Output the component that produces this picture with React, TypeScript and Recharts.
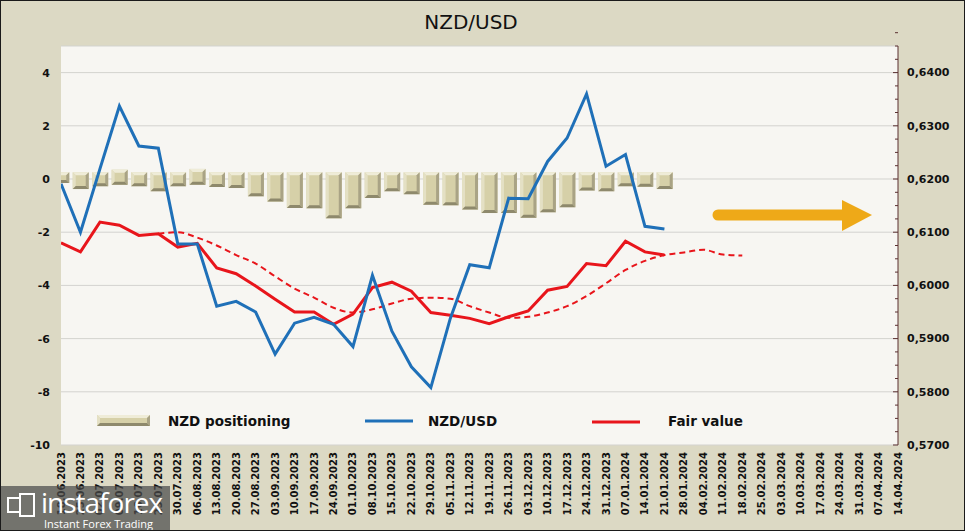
import React from 'react';
import { ComposedChart, Bar, Line, XAxis, YAxis, CartesianGrid } from 'recharts';

const weeks = [
  '18.06.2023', '25.06.2023', '02.07.2023', '09.07.2023', '16.07.2023', '23.07.2023', '30.07.2023',
  '06.08.2023', '13.08.2023', '20.08.2023', '27.08.2023', '03.09.2023', '10.09.2023', '17.09.2023',
  '24.09.2023', '01.10.2023', '08.10.2023', '15.10.2023', '22.10.2023', '29.10.2023', '05.11.2023',
  '12.11.2023', '19.11.2023', '26.11.2023', '03.12.2023', '10.12.2023', '17.12.2023', '24.12.2023',
  '31.12.2023', '07.01.2024', '14.01.2024', '21.01.2024', '28.01.2024', '04.02.2024', '11.02.2024',
  '18.02.2024', '25.02.2024', '03.03.2024', '10.03.2024', '17.03.2024', '24.03.2024', '31.03.2024',
  '07.04.2024', '14.04.2024',
];

// NZD/USD weekly close (right axis)
const nzdusd = [
  0.6191, 0.6100, 0.6219, 0.6337, 0.6262, 0.6258, 0.6078, 0.6078, 0.5961, 0.5970,
  0.5950, 0.5871, 0.5929, 0.5940, 0.5927, 0.5885, 0.6019, 0.5914, 0.5847, 0.5808,
  0.5938, 0.6039, 0.6033, 0.6164, 0.6163, 0.6233, 0.6277, 0.6360, 0.6224, 0.6246,
  0.6111, 0.6106,
];

// fair value (right axis)
const fairValue = [
  0.6080, 0.6063, 0.6119, 0.6113, 0.6094, 0.6097, 0.6072, 0.6079, 0.6033, 0.6022,
  0.5999, 0.5974, 0.5950, 0.5950, 0.5927, 0.5946, 0.5996, 0.6006, 0.5989, 0.5949,
  0.5944, 0.5938, 0.5928, 0.5941, 0.5952, 0.5991, 0.5998, 0.6041, 0.6037, 0.6083,
  0.6063, 0.6057,
];

// smoothed fair value, dashed (right axis)
const fairTrend = [
  null, null, null, null, null,
  0.6097, 0.6100, 0.6090, 0.6075, 0.6057, 0.6041, 0.6017, 0.5994, 0.5977, 0.5958,
  0.5949, 0.5955, 0.5966, 0.5975, 0.5977, 0.5975, 0.5961, 0.5949, 0.5939, 0.5941,
  0.5949, 0.5961, 0.5980, 0.6004, 0.6029, 0.6046, 0.6057, 0.6062, 0.6067, 0.6058,
  0.6056,
];

// NZD positioning bars (left axis), drawn as [bottom, top]
const positioningLow = [
  -0.15, -0.38, -0.27, -0.22, -0.27, -0.46, -0.27, -0.22, -0.30, -0.34,
  -0.65, -0.85, -1.09, -1.10, -1.48, -1.10, -0.71, -0.46, -0.57, -0.97,
  -0.99, -1.15, -1.28, -1.28, -1.46, -1.25, -1.06, -0.43, -0.46, -0.27,
  -0.29, -0.38,
];
const positioningHigh = [
  0.25, 0.25, 0.25, 0.35, 0.25, 0.25, 0.25, 0.38, 0.25, 0.25,
  0.25, 0.25, 0.25, 0.25, 0.25, 0.25, 0.25, 0.25, 0.25, 0.25,
  0.25, 0.25, 0.25, 0.25, 0.25, 0.25, 0.25, 0.25, 0.25, 0.25,
  0.25, 0.25,
];

const leftTicks = [-10, -8, -6, -4, -2, 0, 2, 4];
const rightMajor = [0.57, 0.58, 0.59, 0.6, 0.61, 0.62, 0.63, 0.64];
const rightTicks: number[] = [];
rightMajor.forEach((v) => {
  for (let k = 0; k < 4; k++) rightTicks.push(+(v + k * 0.0025).toFixed(4));
});

const legendNames = ['NZD positioning', 'NZD/USD', 'Fair value'];

const data = weeks.map((week, i) => ({
  idx: i,
  week,
  positioning: positioningLow[i] != null ? [positioningLow[i], positioningHigh[i]] : null,
  nzdusd: nzdusd[i] ?? null,
  fair: fairValue[i] ?? null,
  trend: fairTrend[i] ?? null,
}));

const BLUE = '#1f70b8';
const RED = '#e8151b';
const tickFont = { fontFamily: 'DejaVu Sans', fontWeight: 700, fill: '#111' };

function bevel(x: number, y: number, w: number, h: number, b: number) {
  return (
    <g>
      <rect x={x} y={y} width={w} height={h} fill="#d6d0a8" />
      <polygon points={`${x},${y} ${x + w},${y} ${x + w - b},${y + b} ${x + b},${y + b}`} fill="#efecd8" />
      <polygon points={`${x},${y} ${x + b},${y + b} ${x + b},${y + h - b} ${x},${y + h}`} fill="#e4e0c4" />
      <polygon points={`${x + w},${y} ${x + w},${y + h} ${x + w - b},${y + h - b} ${x + w - b},${y + b}`} fill="#a9a385" />
      <polygon points={`${x},${y + h} ${x + w},${y + h} ${x + w - b},${y + h - b} ${x + b},${y + h - b}`} fill="#8e896c" />
    </g>
  );
}

function BevelBar(props: any) {
  const { x, y, width, height } = props;
  if (x == null || y == null || !width || !height) return null;
  const top = Math.min(y, y + height);
  const h = Math.abs(height);
  const b = Math.min(3, h / 3, width / 3);
  return bevel(x, top, width, h, b);
}

function WeekTick(props: any) {
  const { x, y, payload } = props;
  return (
    <text
      x={x}
      y={y}
      dy="0.35em"
      transform={`rotate(-90 ${x} ${y})`}
      textAnchor="end"
      fontSize={10}
      {...tickFont}
    >
      {weeks[payload.value]}
    </text>
  );
}

function RightTick(props: any) {
  const { x, y, payload } = props;
  const v = payload.value as number;
  const major = rightMajor.some((m) => Math.abs(m - v) < 1e-6);
  return (
    <g>
      <line x1={x - (major ? 5 : 3)} y1={y} x2={x} y2={y} stroke="#5a3030" strokeWidth={1} />
      {major && (
        <text x={x + 9} y={y} dy="0.35em" textAnchor="start" fontSize={11} {...tickFont}>
          {v.toFixed(4).replace('.', ',')}
        </text>
      )}
    </g>
  );
}

export default function App() {
  return (
    <div style={{ position: 'relative', width: 965, height: 531, background: '#dcd9c4', overflow: 'hidden' }}>
      <style>{'body{margin:0}'}</style>
      <div
        style={{
          position: 'absolute',
          top: 10,
          left: 0,
          width: 942,
          textAlign: 'center',
          fontFamily: 'DejaVu Sans',
          fontSize: 20,
          color: '#111',
        }}
      >
        NZD/USD
      </div>
      <ComposedChart width={965} height={531} data={data} margin={{ top: 46, right: 0, bottom: 6, left: 0 }}>
        <CartesianGrid yAxisId="left" vertical={false} stroke="#d3d3cf" fill="#f7f6f2" />
        <XAxis
          type="number"
          dataKey="idx"
          domain={[0, 43]}
          ticks={weeks.map((_, i) => i)}
          interval={0}
          allowDataOverflow
          axisLine={false}
          tickLine={false}
          tickSize={0}
          tickMargin={7}
          height={80}
          tick={<WeekTick />}
        />
        <YAxis
          yAxisId="left"
          domain={[-10, 5]}
          ticks={leftTicks}
          interval={0}
          width={61}
          axisLine={false}
          tickLine={false}
          tickSize={0}
          tickMargin={11}
          tick={{ fontSize: 11, ...tickFont }}
        />
        <YAxis
          yAxisId="right"
          orientation="right"
          domain={[0.57, 0.645]}
          ticks={rightTicks}
          interval={0}
          width={67}
          axisLine={{ stroke: '#5a3030' }}
          tickLine={false}
          tickSize={0}
          tickMargin={0}
          tick={<RightTick />}
        />
        <Bar
          yAxisId="left"
          dataKey="positioning"
          name={legendNames[0]}
          barSize={16}
          shape={<BevelBar />}
          isAnimationActive={false}
        />
        <Line
          yAxisId="right"
          dataKey="trend"
          type="monotone"
          stroke={RED}
          strokeWidth={2}
          strokeDasharray="6 4"
          dot={false}
          isAnimationActive={false}
        />
        <Line
          yAxisId="right"
          dataKey="fair"
          name={legendNames[2]}
          type="linear"
          stroke={RED}
          strokeWidth={3}
          dot={false}
          isAnimationActive={false}
        />
        <Line
          yAxisId="right"
          dataKey="nzdusd"
          name={legendNames[1]}
          type="linear"
          stroke={BLUE}
          strokeWidth={3}
          dot={false}
          isAnimationActive={false}
        />
      </ComposedChart>

      {/* legend */}
      <svg style={{ position: 'absolute', left: 0, top: 0 }} width={965} height={531} pointerEvents="none">
        {bevel(97, 415, 53, 11, 3)}
        <line x1={365} y1={421} x2={413} y2={421} stroke={BLUE} strokeWidth={3} />
        <line x1={592} y1={422} x2={640} y2={422} stroke={RED} strokeWidth={3} />
        {[168, 428, 668].map((lx, i) => (
          <text key={i} x={lx} y={421} dy="0.35em" fontFamily="DejaVu Sans" fontWeight={700} fontSize={13.5} fill="#111">
            {legendNames[i]}
          </text>
        ))}
        {/* arrow */}
        <line x1={718} y1={215} x2={846} y2={215} stroke="#eea918" strokeWidth={11} strokeLinecap="round" />
        <polygon points="842,200 872,215 842,231" fill="#eea918" />
      </svg>

      {/* watermark */}
      <div
        style={{
          position: 'absolute',
          left: 0,
          top: 486,
          width: 170,
          height: 45,
          background: 'rgba(75,75,75,0.72)',
          color: '#fff',
          fontFamily: 'Open Sans',
        }}
      >
        <svg style={{ position: 'absolute', left: 6, top: 6 }} width={34} height={28}>
          <rect x={2} y={6} width={12} height={14} fill="none" stroke="#fff" strokeWidth={2} />
          <rect x={14} y={2} width={14} height={22} fill="none" stroke="#fff" strokeWidth={2} />
        </svg>
        <div style={{ position: 'absolute', left: 41, top: 1, fontSize: 28, lineHeight: '30px', letterSpacing: -1 }}>
          instaforex
        </div>
        <div style={{ position: 'absolute', left: 44, top: 32, fontSize: 11, lineHeight: '12px' }}>
          Instant Forex Trading
        </div>
      </div>

      <div
        style={{
          position: 'absolute',
          inset: 0,
          border: '1px solid #1a1a1a',
          pointerEvents: 'none',
        }}
      />
    </div>
  );
}
